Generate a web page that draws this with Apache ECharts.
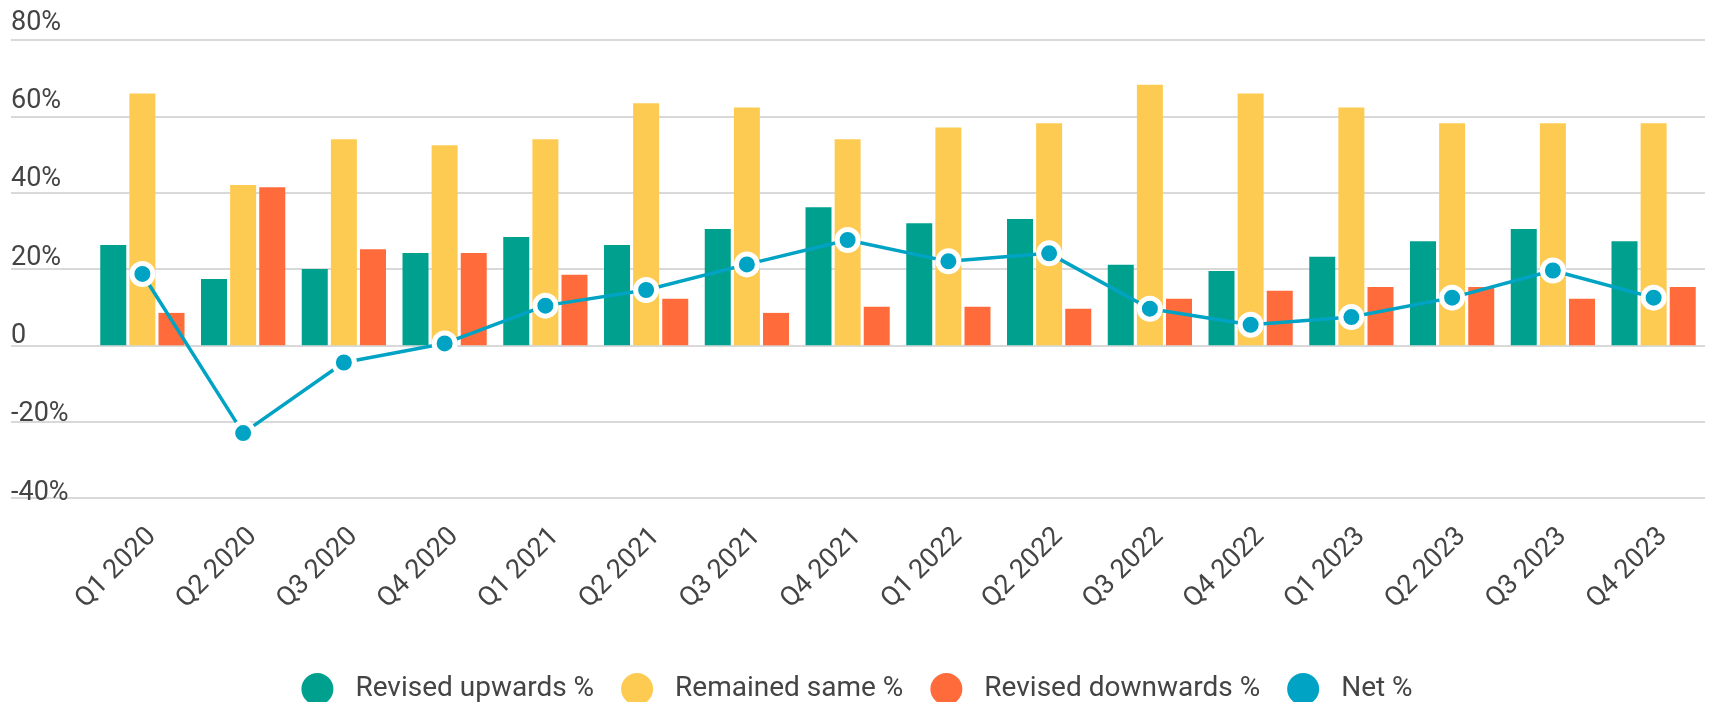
<!DOCTYPE html>
<html>
<head>
<meta charset="utf-8">
<script src="https://cdn.jsdelivr.net/npm/echarts@6/dist/echarts.min.js"></script>
<style>
html,body{margin:0;padding:0;background:#fff;}
#chart{width:1714px;height:702px;}
</style>
</head>
<body>
<div id="chart"></div>
<script>
const categories = ['Q1 2020','Q2 2020','Q3 2020','Q4 2020','Q1 2021','Q2 2021','Q3 2021','Q4 2021','Q1 2022','Q2 2022','Q3 2022','Q4 2022','Q1 2023','Q2 2023','Q3 2023','Q4 2023'];
const revisedUp = [26.3, 17.4, 20.0, 24.2, 28.4, 26.3, 30.5, 36.2, 32.0, 33.1, 21.1, 19.5, 23.2, 27.3, 30.5, 27.3];
const remainedSame = [66.0, 42.0, 54.0, 52.4, 54.0, 63.4, 62.3, 54.0, 57.1, 58.2, 68.3, 66.0, 62.3, 58.2, 58.2, 58.2];
const revisedDown = [8.5, 41.4, 25.2, 24.2, 18.5, 12.2, 8.5, 10.1, 10.1, 9.6, 12.2, 14.3, 15.3, 15.3, 12.2, 15.3];
const net = [18.7, -23.0, -4.5, 0.5, 10.4, 14.5, 21.2, 27.6, 22.0, 24.1, 9.6, 5.4, 7.4, 12.5, 19.6, 12.5];
const seriesNames = ['Revised upwards %', 'Remained same %', 'Revised downwards %', 'Net %'];
const yTicks = {min: -40, max: 80, interval: 20};

const FONT = 'Roboto';
const TXT = '#444444';
const colors = ['#00a08f', '#fdcb52', '#ff6b3a', '#00a3c4'];

const chart = echarts.init(document.getElementById('chart'), null, {renderer: 'canvas'});
chart.setOption({
  animation: false,
  textStyle: {fontFamily: FONT},
  grid: [
    {left: 11, right: 9, top: 40, bottom: 204},
    {left: 92, right: 10, top: 40, bottom: 204},
    {left: 11, right: 9, top: 23, bottom: 209}
  ],
  xAxis: [
    {type: 'category', gridIndex: 0, data: categories, show: false},
    {type: 'category', gridIndex: 1, data: categories,
     axisLine: {show: false}, axisTick: {show: false},
     axisLabel: {rotate: 45, margin: 25, verticalAlign: 'top', color: TXT, fontSize: 27, fontFamily: FONT, interval: 0}},
    {type: 'category', gridIndex: 2, data: categories, show: false}
  ],
  yAxis: [
    {type: 'value', gridIndex: 0, min: yTicks.min, max: yTicks.max, interval: yTicks.interval,
     axisLine: {show: false}, axisTick: {show: false}, axisLabel: {show: false},
     splitLine: {lineStyle: {color: '#d9d9d9', width: 2}}},
    {type: 'value', gridIndex: 1, min: yTicks.min, max: yTicks.max, interval: yTicks.interval, show: false},
    {type: 'value', gridIndex: 2, min: yTicks.min, max: yTicks.max, interval: yTicks.interval,
     axisLine: {show: false}, axisTick: {show: false}, splitLine: {show: false},
     axisLabel: {inside: true, margin: 0, verticalAlign: 'middle',
       color: TXT, fontSize: 27, fontFamily: FONT,
       formatter: v => v === 0 ? '0' : v + '%'}}
  ],
  legend: {
    data: seriesNames.map(n => ({name: n, icon: 'circle'})),
    left: 'center', top: 668,
    itemWidth: 32, itemHeight: 32, itemGap: 27,
    itemStyle: {borderWidth: 0},
    textStyle: {color: TXT, fontSize: 28, fontFamily: FONT, padding: [0, 0, 0, 17]}
  },
  series: [
    {name: seriesNames[0], type: 'bar', xAxisIndex: 1, yAxisIndex: 1, data: revisedUp,
     itemStyle: {color: colors[0]}, barWidth: 26, barGap: '12%'},
    {name: seriesNames[1], type: 'bar', xAxisIndex: 1, yAxisIndex: 1, data: remainedSame,
     itemStyle: {color: colors[1]}, barWidth: 26, barGap: '12%'},
    {name: seriesNames[2], type: 'bar', xAxisIndex: 1, yAxisIndex: 1, data: revisedDown,
     itemStyle: {color: colors[2]}, barWidth: 26, barGap: '12%'},
    {name: seriesNames[3], type: 'line', xAxisIndex: 1, yAxisIndex: 1, data: net, z: 5,
     lineStyle: {color: colors[3], width: 3.5},
     symbol: 'circle', symbolSize: 21,
     itemStyle: {color: colors[3], borderColor: '#ffffff', borderWidth: 5}}
  ]
});
</script>
</body>
</html>
